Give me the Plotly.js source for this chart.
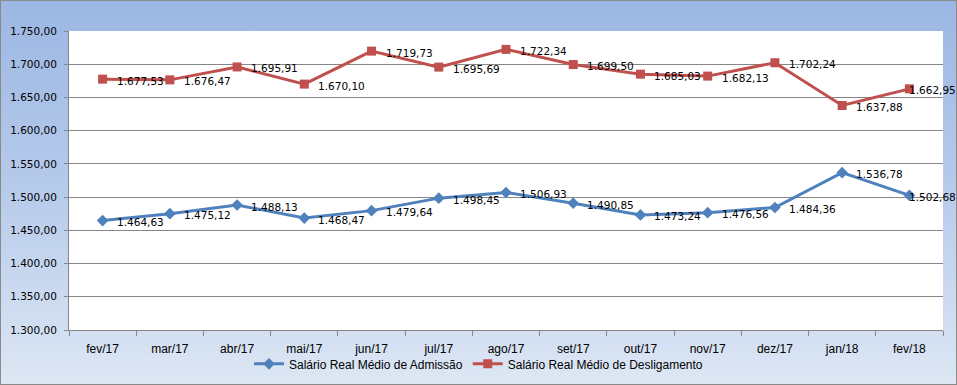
<!DOCTYPE html>
<html><head><meta charset="utf-8">
<script src="https://cdn.plot.ly/plotly-3.0.1.min.js"></script>
<style>
html,body{margin:0;padding:0;}
#chart{width:957px;height:385px;background:linear-gradient(to bottom,#9bb7e3 0%,#b7cbeb 50%,#dde7f4 100%);box-shadow:inset 0 0 0 1px #8a8a8a;}
</style></head>
<body><div id="chart"></div>
<script>
const categories = ['fev/17','mar/17','abr/17','mai/17','jun/17','jul/17','ago/17','set/17','out/17','nov/17','dez/17','jan/18','fev/18'];
const admissao = [1464.63,1475.12,1488.13,1468.47,1479.64,1498.45,1506.93,1490.85,1473.24,1476.56,1484.36,1536.78,1502.68];
const desligamento = [1677.53,1676.47,1695.91,1670.10,1719.73,1695.69,1722.34,1699.50,1685.03,1682.13,1702.24,1637.88,1662.95];
const nameAdm = 'Salário Real Médio de Admissão';
const nameDes = 'Salário Real Médio de Desligamento';

function fmt(v){
  const parts = v.toFixed(2).split('.');
  const intp = parts[0].replace(/\B(?=(\d{3})+(?!\d))/g, '.');
  return intp + ',' + parts[1];
}

const labelFont = {family:'DejaVu Sans, Verdana, sans-serif', size:10.5, color:'#000'};
const traces = [
 {x:categories, y:admissao, name:nameAdm, type:'scatter', mode:'lines+markers',
  line:{color:'#4f81bd', width:3}, marker:{symbol:'diamond', size:9, color:'#4f81bd'}, cliponaxis:false},
 {x:categories, y:desligamento, name:nameDes, type:'scatter', mode:'lines+markers',
  line:{color:'#c0504d', width:3}, marker:{symbol:'square', size:9, color:'#c0504d'}, cliponaxis:false}
];

const annotations = [];
[admissao, desligamento].forEach(series => {
  series.forEach((v, i) => {
    const last = i === series.length - 1;
    annotations.push({x:categories[i], y:v, xref:'x', yref:'y', text:fmt(v), showarrow:false,
      xanchor:'left', yanchor:'middle', xshift: last ? -2 : 12, yshift:-1.5, font:labelFont});
  });
});

const layout = {
 width:957, height:385, separators:',.',
 margin:{l:69, r:14, t:31, b:55},
 paper_bgcolor:'rgba(0,0,0,0)', plot_bgcolor:'#ffffff',
 showlegend:true, annotations:annotations,
 legend:{orientation:'h', x:0.5, xanchor:'center', xref:'container', yref:'container', y:0.055, yanchor:'middle',
   itemwidth:30,
   font:{family:'Liberation Sans Narrow, Liberation Sans, sans-serif', size:12, color:'#000'}, bgcolor:'rgba(0,0,0,0)'},
 xaxis:{type:'category', range:[-0.5, categories.length-0.5], tickson:'boundaries', ticks:'outside', ticklen:5, tickcolor:'#868686', automargin:false,
   showline:true, linecolor:'#868686', showgrid:false, ticklabelstandoff:8,
   tickfont:{family:'Liberation Sans Narrow, Liberation Sans, sans-serif', size:12, color:'#000'}},
 yaxis:{range:[1300,1750], dtick:50, tickformat:',.2f', showline:true, linecolor:'#868686', automargin:false,
   gridcolor:'#868686', gridwidth:1, ticks:'outside', ticklen:4, tickcolor:'#868686', zeroline:false, ticklabelstandoff:5,
   tickfont:{family:'DejaVu Sans, Verdana, sans-serif', size:10.5, color:'#000'}}
};
Plotly.newPlot('chart', traces, layout, {displayModeBar:false});
</script></body></html>
